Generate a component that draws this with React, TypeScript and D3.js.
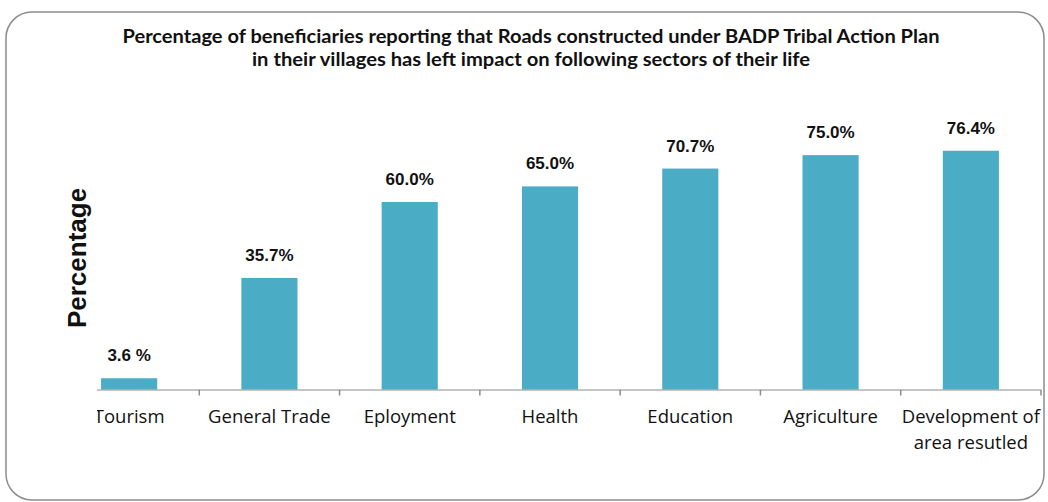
import { useEffect, useRef } from "react"
import * as d3 from "d3"

const title = [
  "Percentage of beneficiaries reporting that Roads constructed under BADP Tribal Action Plan",
  "in their villages has left impact on following sectors of their life",
]
const categories = [
  "Tourism",
  "General Trade",
  "Eployment",
  "Health",
  "Education",
  "Agriculture",
  "Development of\narea resutled",
]
const values = [3.6, 35.7, 60.0, 65.0, 70.7, 75.0, 76.4]
const valueLabels = ["3.6 %", "35.7%", "60.0%", "65.0%", "70.7%", "75.0%", "76.4%"]

export default function App() {
  const svgRef = useRef<SVGSVGElement>(null)

  useEffect(() => {
    if (!svgRef.current) return
    const svg = d3.select(svgRef.current)
    svg.selectAll("*").remove()

    const width = 1048
    const height = 502
    const baseline = 389.5

    // outer frame
    svg
      .append("rect")
      .attr("x", 6)
      .attr("y", 12)
      .attr("width", width - 10)
      .attr("height", height - 14)
      .attr("rx", 26)
      .attr("fill", "#fff")
      .attr("stroke", "#8c8c8c")
      .attr("stroke-width", 1.5)

    // title
    const titleWidths = [817, 558]
    svg
      .append("g")
      .selectAll("text")
      .data(title)
      .enter()
      .append("text")
      .attr("text-anchor", "middle")
      .attr("font-family", "Lato, 'Open Sans', sans-serif")
      .attr("font-weight", "bold")
      .attr("font-size", "18px")
      .attr("fill", "#111")
      .attr("x", 531)
      .attr("y", (_, i) => 43 + i * 23)
      .attr("textLength", (_, i) => titleWidths[i])
      .attr("lengthAdjust", "spacingAndGlyphs")
      .text((d) => d)

    const x = d3.scaleBand().domain(categories).range([59, 1041]).paddingInner(0.6).paddingOuter(0.3)
    const y = d3.scaleLinear().domain([0, 80]).range([baseline, baseline - 250])

    // clip for the cut-off left side of the axis
    svg
      .append("clipPath")
      .attr("id", "axclip")
      .append("rect")
      .attr("x", 97)
      .attr("y", 0)
      .attr("width", width)
      .attr("height", height)

    // bars
    svg
      .selectAll(".bar")
      .data(categories)
      .enter()
      .append("rect")
      .attr("class", "bar")
      .attr("x", (d) => x(d)!)
      .attr("width", x.bandwidth())
      .attr("y", (_, i) => y(values[i]))
      .attr("height", (_, i) => baseline - y(values[i]))
      .attr("fill", "#4bacc6")

    // value labels
    svg
      .selectAll(".vlabel")
      .data(categories)
      .enter()
      .append("text")
      .attr("class", "vlabel")
      .attr("x", (d) => x(d)! + x.bandwidth() / 2)
      .attr("y", (_, i) => y(values[i]) - 17)
      .attr("text-anchor", "middle")
      .attr("font-family", "'Liberation Sans', Arial, sans-serif")
      .attr("font-weight", "bold")
      .attr("font-size", "17px")
      .attr("fill", "#111")
      .text((_, i) => valueLabels[i])

    // x axis
    const axis = svg
      .append("g")
      .attr("clip-path", "url(#axclip)")
      .attr("transform", `translate(0, ${baseline})`)
      .call(d3.axisBottom(x).tickSize(0).tickFormat(() => ""))
    axis.select(".domain").attr("stroke", "#8c8c8c").attr("stroke-width", 2).attr("d", "M59,0H1041")

    // category boundary ticks
    const step = x.step()
    const bounds = d3.range(1, categories.length + 1).map((i) => 59 + i * step)
    axis
      .selectAll(".btick")
      .data(bounds)
      .enter()
      .append("line")
      .attr("x1", (d) => d)
      .attr("x2", (d) => d)
      .attr("y1", 0)
      .attr("y2", 6)
      .attr("stroke", "#8c8c8c")
      .attr("stroke-width", 1.5)

    // category labels
    const labels = axis
      .selectAll(".clabel")
      .data(categories)
      .enter()
      .append("text")
      .attr("class", "clabel")
      .attr("text-anchor", "middle")
      .attr("font-family", "'Open Sans', Lato, sans-serif")
      .attr("font-size", "18.5px")
      .attr("fill", "#111")
    labels
      .selectAll("tspan")
      .data((d) => d.split("\n").map((t) => ({ t, c: d })))
      .enter()
      .append("tspan")
      .attr("x", (d) => x(d.c)! + x.bandwidth() / 2)
      .attr("y", (_, i) => 33 + i * 26)
      .text((d) => d.t)

    // y axis title
    svg
      .append("text")
      .attr("transform", "translate(86, 258) rotate(-90)")
      .attr("text-anchor", "middle")
      .attr("font-family", "'Liberation Sans', Arial, sans-serif")
      .attr("font-weight", "bold")
      .attr("font-size", "26px")
      .attr("fill", "#111")
      .text("Percentage")
  }, [])

  return (
    <svg
      ref={svgRef}
      width={1048}
      height={502}
      style={{ position: "absolute", left: 0, top: 0, background: "#fff" }}
    />
  )
}
